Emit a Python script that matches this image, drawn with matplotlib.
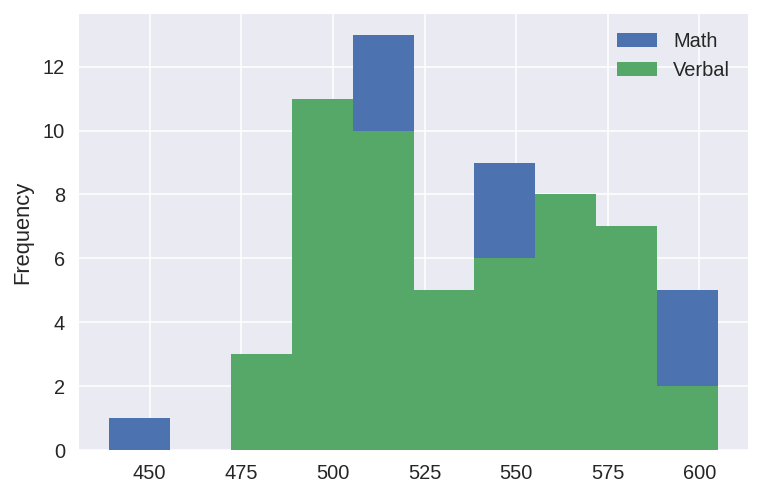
import matplotlib
matplotlib.use("Agg")
import matplotlib.pyplot as plt
import numpy as np

# histogram data (10 shared bins)
bin_edges = np.linspace(439, 605, 11)
math_counts = [1, 0, 2, 8, 13, 4, 9, 6, 5, 5]
verbal_counts = [0, 0, 3, 11, 10, 5, 6, 8, 7, 2]
series_names = ["Math", "Verbal"]

plt.style.use("seaborn-v0_8-darkgrid")
plt.rcParams["font.family"] = ["Liberation Sans", "DejaVu Sans"]
plt.rcParams["font.size"] = 10

fig = plt.figure(figsize=(762 / 144, 496 / 144), dpi=144)
ax = fig.add_axes([0.1037, 0.0927, 0.878, 0.879])

centers = (bin_edges[:-1] + bin_edges[1:]) / 2
ax.hist(centers, bins=bin_edges, weights=math_counts, color="#4C72B0", label=series_names[0])
ax.hist(centers, bins=bin_edges, weights=verbal_counts, color="#55A868", label=series_names[1])

ax.set_ylabel("Frequency", fontsize=11, color="#262626", labelpad=5)
ax.set_xticks([450, 475, 500, 525, 550, 575, 600])
ax.set_yticks([0, 2, 4, 6, 8, 10, 12])
ax.tick_params(labelsize=10, colors="#262626", pad=7)
span = bin_edges[-1] - bin_edges[0]
ax.set_xlim(bin_edges[0] - 0.05 * span, bin_edges[-1] + 0.05 * span)
ax.set_ylim(0, 13.65)
ax.legend(loc="upper right", frameon=False, fontsize=10)

fig.savefig("out.png", dpi=144)
